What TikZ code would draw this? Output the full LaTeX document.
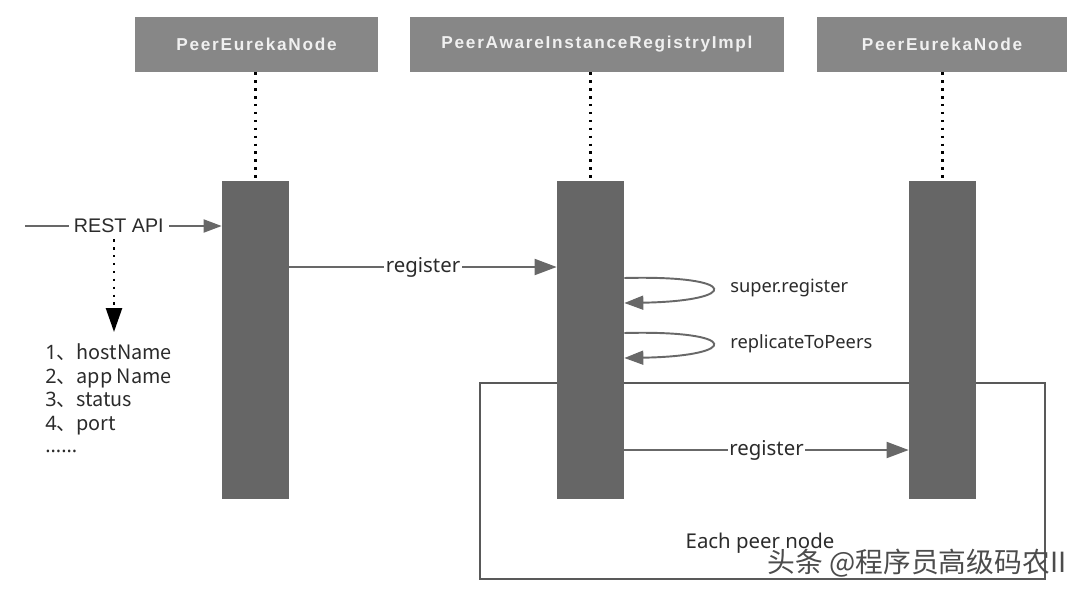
\documentclass[tikz,border=0pt]{standalone}
\usepackage{fontspec}
\setmainfont{Noto Sans}
\newfontfamily\hdrfont[LetterSpace=10]{Liberation Sans}
\newfontfamily\restfont{Liberation Sans}
\newfontfamily\cjk{Noto Sans CJK SC}
\usetikzlibrary{arrows.meta}
\definecolor{hdrgray}{HTML}{878787}
\definecolor{bargray}{HTML}{666666}
\definecolor{linegray}{HTML}{686868}
\definecolor{txtgray}{HTML}{2B2B2B}

\begin{document}
\begin{tikzpicture}[x=0.02cm, y=-0.02cm,
  hdrbox/.style={fill=hdrgray, draw=none, text=white!94!black, minimum height=1.1cm, inner sep=0pt,
    font=\hdrfont\bfseries\fontsize{9.8pt}{11pt}\selectfont},
  actbar/.style={fill=bargray, draw=none, minimum width=1.34cm, minimum height=6.36cm, inner sep=0pt},
  dotline/.style={draw=black, line width=1.4pt, dash pattern=on 1.4pt off 3.1pt},
  msgarrow/.style={draw=linegray, line width=1.1pt, -{Triangle[length=0.44cm, width=0.32cm]}},
  selfarrow/.style={draw=linegray, line width=1.1pt, -{Triangle[length=0.38cm, width=0.28cm]}},
  lbl/.style={text=txtgray, fill=white, inner sep=1pt, font=\fontsize{11.6pt}{13pt}\selectfont},
  param/.style={text=txtgray, anchor=base west, inner sep=0pt, font=\fontsize{11.3pt}{13pt}\selectfont}
]
  \useasboundingbox (0,0) rectangle (1080,593);

  % frame of the peer loop
  \draw[draw=black!65, line width=1.5pt] (480,383) rectangle (1045,579);

  % heads and activation bars
  \node[hdrbox, minimum width=4.86cm] (hdrA) at (256.5,44.5) {PeerEurekaNode};
  \node[hdrbox, minimum width=7.5cm] (hdrB) at (597,44.5) {PeerAwareInstanceRegistryImpl};
  \node[hdrbox, minimum width=5cm] (hdrC) at (942,44.5) {PeerEurekaNode};

  \node[actbar] (actA) at (255.5,340) {};
  \node[actbar] (actB) at (590.5,340) {};
  \node[actbar] (actC) at (942.5,340) {};

  \draw[dotline] (actA.north |- hdrA.south) -- (actA.north);
  \draw[dotline] (actB.north |- hdrB.south) -- (actB.north);
  \draw[dotline] (actC.north |- hdrC.south) -- (actC.north);

  % incoming request
  \coordinate (restStart) at (25,226);
  \draw[draw=linegray, line width=1.1pt, -{Triangle[length=0.36cm, width=0.26cm]}]
    (restStart) -- (actA.west |- restStart)
    node[pos=0.477, fill=white, inner sep=3pt, text=txtgray, font=\restfont\fontsize{11.2pt}{13pt}\selectfont] (rest) {REST API};
  \coordinate (paramTop) at (114,332);
  \draw[dotline, -{Triangle[length=0.48cm, width=0.32cm]}] (rest.south -| paramTop) -- (paramTop);

  \node[param] (p1) at (45,359) {1\cjk{、}hostName};
  \node[param] (p2) at (45,383) {2\cjk{、}app Name};
  \node[param] (p3) at (45,406) {3\cjk{、}status};
  \node[param] (p4) at (45,430) {4\cjk{、}port};
  \node[param] (p5) at (45,452) {......};

  % messages
  \draw[msgarrow] (actA.east |- 0,267) -- (actB.west |- 0,267) node[midway, lbl] {register};

  \draw[selfarrow] (actB.east |- 0,278) .. controls (741,275) and (741,301) .. (actB.east |- 0,303);
  \node[text=txtgray, anchor=west, inner sep=0pt, font=\fontsize{10.4pt}{12pt}\selectfont] (superReg) at (730,288) {super.register};
  \draw[selfarrow] (actB.east |- 0,333) .. controls (741,330) and (741,356) .. (actB.east |- 0,358);
  \node[text=txtgray, anchor=west, inner sep=0pt, font=\fontsize{10.4pt}{12pt}\selectfont] (replPeers) at (730,344) {replicateToPeers};

  \draw[msgarrow] (actB.east |- 0,450) -- (actC.west |- 0,450) node[midway, lbl] {register};

  \node[text=txtgray, font=\fontsize{11.6pt}{13pt}\selectfont] (eachPeer) at (760,543) {Each peer node};
  \node[text=black!70, font=\cjk\fontsize{15.8pt}{17pt}\selectfont] (mark) at (917,563) {头条 @程序员高级码农II};
\end{tikzpicture}
\end{document}
